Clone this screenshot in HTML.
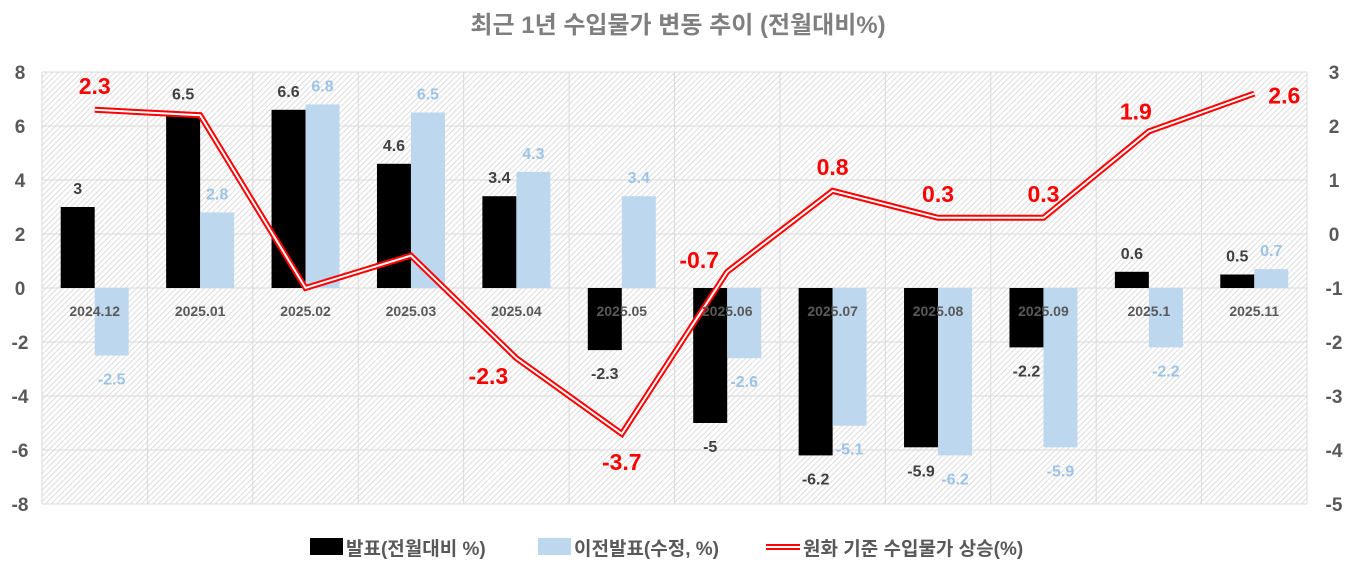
<!DOCTYPE html>
<html><head><meta charset="utf-8"><style>
body{margin:0;background:#fff;font-family:"Liberation Sans","Noto Sans CJK KR",sans-serif;}
svg text{font-family:"Liberation Sans","Noto Sans CJK KR",sans-serif;font-weight:bold;}
</style></head><body>
<svg id="c" width="1356" height="567" viewBox="0 0 1356 567">
<defs><pattern id="hatch" width="4" height="4" patternUnits="userSpaceOnUse" patternTransform="rotate(45)"><rect width="4" height="4" fill="#fff"/><line x1="0" y1="0" x2="0" y2="4" stroke="#d4d4d4" stroke-width="1.6"/></pattern></defs>
<text x="678" y="33" text-anchor="middle" font-size="24" fill="#7f7f7f">최근 1년 수입물가 변동 추이 (전월대비%)</text>
<rect x="42" y="72" width="1265" height="432" fill="url(#hatch)"/>
<g id="grid"></g><g id="bars"></g><g id="line"></g><g id="labels"></g>
<g>
<rect x="310" y="538" width="33" height="17" fill="#000"/>
<text x="346" y="555" font-size="19" fill="#595959">발표(전월대비 %)</text>
<rect x="464" y="538" width="0" height="0" fill="none"/>
<rect x="464" y="538" width="33" height="17" fill="#bdd7ee" transform="translate(0,0)" style="display:none"/>
<rect x="538" y="538" width="33" height="17" fill="#bdd7ee"/>
<text x="574" y="555" font-size="19" fill="#595959">이전발표(수정, %)</text>
<line x1="766" y1="547" x2="800" y2="547" stroke="#ff0000" stroke-width="6"/>
<line x1="766" y1="547" x2="800" y2="547" stroke="#fff" stroke-width="2"/>
<text x="803" y="555" font-size="19" fill="#595959">원화 기준 수입물가 상승(%)</text>
</g>
</svg>
<script>
const categories=["2024.12","2025.01","2025.02","2025.03","2025.04","2025.05","2025.06","2025.07","2025.08","2025.09","2025.1","2025.11"];
const announced=[3,6.5,6.6,4.6,3.4,-2.3,-5,-6.2,-5.9,-2.2,0.6,0.5];
const previous=[-2.5,2.8,6.8,6.5,4.3,3.4,-2.6,-5.1,-6.2,-5.9,-2.2,0.7];
const krw=[2.3,2.2,-1.0,-0.4,-2.3,-3.7,-0.7,0.8,0.3,0.3,1.9,2.6];
const krwShow=[1,0,0,0,1,1,1,1,1,1,1,1];
const krwPlace=["above","above","above","above","left","below","left","above","above","above","aboveleft","right"];
const leftTicks=[8,6,4,2,0,-2,-4,-6,-8];
const rightTicks=[3,2,1,0,-1,-2,-3,-4,-5];
const NS="http://www.w3.org/2000/svg";
const X0=42,X1=1307,Y0=72,Y1=504,cw=(X1-X0)/categories.length,bw=34;
const yL=v=>Y0+(8-v)*(Y1-Y0)/16;
const yR=v=>Y0+(3-v)*(Y1-Y0)/8;
const xc=i=>X0+cw*(i+0.5);
function mk(tag,attrs,parent,txt){const e=document.createElementNS(NS,tag);for(const k in attrs)e.setAttribute(k,attrs[k]);if(txt!==undefined)e.textContent=txt;parent.appendChild(e);return e;}
const g=document.getElementById('grid'),b=document.getElementById('bars'),l=document.getElementById('line'),lb=document.getElementById('labels');
leftTicks.forEach(t=>{const y=yL(t);
 const ln=mk('line',{x1:X0,x2:X1,y1:y,y2:y,stroke:'#d9d9d9','stroke-width':1},g);
 
 const tx=mk('text',{x:20,y:y+7,'text-anchor':'middle','font-size':19,fill:'#595959'},g,String(t));
 });
rightTicks.forEach(t=>{const y=yR(t);
 const tx=mk('text',{x:1334,y:y+7,'text-anchor':'middle','font-size':19,fill:'#595959'},g,String(t));
 });
for(let i=0;i<=categories.length;i++){const x=X0+cw*i;
 const ln=mk('line',{x1:x,x2:x,y1:Y0,y2:Y1,stroke:'#d9d9d9','stroke-width':1},g);
 }
categories.forEach((c,i)=>{const x=xc(i);
 [[announced[i],x-bw,'#000','#404040','bar-announced'],[previous[i],x,'#bdd7ee','#9dc3e6','bar-previous']].forEach(([v,bx,fill,lc,nm])=>{
  const y=yL(v),z=yL(0);
  const r=mk('rect',{x:bx,y:Math.min(y,z),width:bw,height:Math.abs(y-z),fill:fill},b);
  
  const ty=v>=0?y-13:y+29;
  const t=mk('text',{x:bx+bw/2,y:ty,'text-anchor':'middle','font-size':16,fill:lc},lb,String(v));
  
 });
 const t=mk('text',{x:x,y:316,'text-anchor':'middle','font-size':14,fill:'#595959'},lb,c);
 
});
const pts=krw.map((v,i)=>xc(i)+','+yR(v)).join(' ');
const p1=mk('polyline',{points:pts,fill:'none',stroke:'#ff0000','stroke-width':6,'stroke-linejoin':'miter'},l);

mk('polyline',{points:pts,fill:'none',stroke:'#fff','stroke-width':2},l);
krw.forEach((v,i)=>{if(!krwShow[i])return;let x=xc(i),y=yR(v);const p=krwPlace[i];
 if(p==='above'){y-=16;}else if(p==='below'){y+=36;}else if(p==='left'){x-=28;y+=26;if(v>-1)y-=30;}
 else if(p==='aboveleft'){x-=13;y-=12;}else if(p==='right'){x+=30;y+=10;}
 const t=mk('text',{x:x,y:y,'text-anchor':'middle','font-size':23,fill:'#ff0000'},lb,String(v));
 });
</script>
</body></html>
